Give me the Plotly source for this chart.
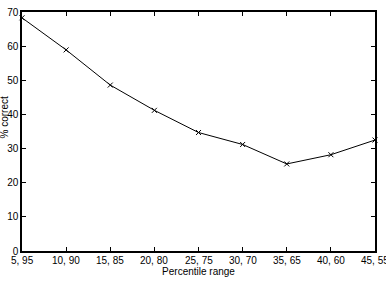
import plotly.graph_objects as go

categories = ["5, 95", "10, 90", "15, 85", "20, 80", "25, 75", "30, 70", "35, 65", "40, 60", "45, 55"]
pct_correct = [68.3, 58.9, 48.6, 41.2, 34.7, 31.2, 25.5, 28.2, 32.5]
y_ticks = [0, 10, 20, 30, 40, 50, 60, 70]

fig = go.Figure()
fig.add_trace(go.Scatter(
    x=list(range(len(categories))), y=pct_correct, mode="lines+markers",
    line=dict(color="black", width=1),
    marker=dict(symbol="x-thin", size=5, line=dict(color="black", width=1), color="black"),
    cliponaxis=False, showlegend=False,
))

font = dict(family="Liberation Sans, Arial, sans-serif", size=10, color="black")
xpos = list(range(len(categories)))
fig.update_layout(
    width=386, height=282,
    margin=dict(l=22, r=11, t=6, b=31),
    paper_bgcolor="white", plot_bgcolor="white",
    font=font,
    xaxis=dict(
        range=[0, len(categories) - 1], tickmode="array",
        tickvals=xpos, ticktext=[""] * len(categories),
        ticks="inside", ticklen=4, tickcolor="black", mirror="ticks",
        showline=True, linecolor="black", linewidth=1.5, showgrid=False, zeroline=False,
        title=dict(text="Percentile range", font=font, standoff=14),
    ),
    yaxis=dict(
        range=[0, 70], tickmode="array", tickvals=y_ticks,
        ticks="inside", ticklen=4, tickcolor="black", mirror="ticks",
        showline=True, linecolor="black", linewidth=1.5, showgrid=False, zeroline=False,
    ),
)
for xi, lab in zip(xpos, categories):
    fig.add_annotation(
        text=lab, xref="x", yref="paper", x=xi, y=0, yshift=-2,
        xanchor="center", yanchor="top", showarrow=False, font=font,
    )
fig.add_annotation(
    text="% correct", xref="paper", yref="paper", x=-0.05, y=0.56,
    xanchor="center", yanchor="middle", textangle=-90, showarrow=False, font=font,
)
fig.write_html("out.html")
